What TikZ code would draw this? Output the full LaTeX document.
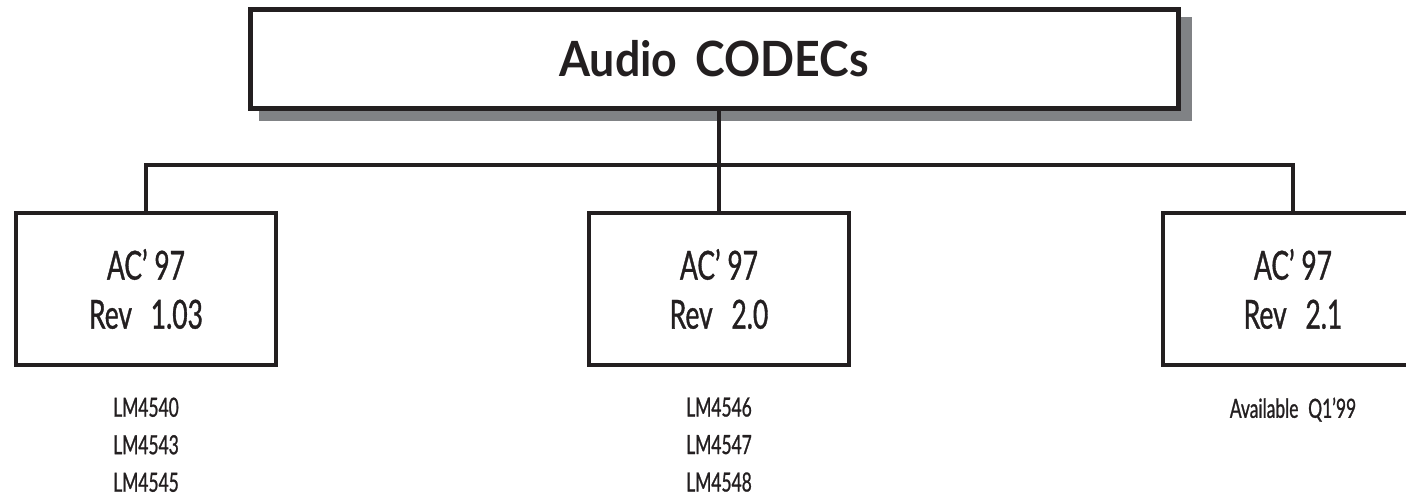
\documentclass[tikz,border=0pt]{standalone}
\usepackage{fontspec}
\setmainfont{Lato}
\newfontfamily\condfont[FakeStretch=0.66, FakeBold=0.9]{Lato}
\newfontfamily\headfont[FakeStretch=0.92]{Lato}
\usetikzlibrary{positioning,backgrounds}
\definecolor{inkcolor}{RGB}{35,31,32}
\definecolor{shadowcolor}{RGB}{128,130,133}

\begin{document}
\begin{tikzpicture}[
    x=0.5pt, y=-0.5pt,
    titlebox/.style={draw=inkcolor, fill=white, line width=2.5pt, inner sep=0pt,
      minimum width=464pt, minimum height=49.5pt, text=inkcolor,
      font=\headfont\bfseries\fontsize{24.3}{29}\selectfont},
    revbox/.style={draw=inkcolor, fill=white, line width=2.2pt, inner sep=0pt,
      minimum width=130pt, minimum height=76pt, align=center, text=inkcolor,
      font=\condfont\fontsize{20}{24.5}\selectfont},
    partlist/.style={align=center, inner sep=0pt, text=inkcolor,
      font=\condfont\fontsize{13.2}{18.75}\selectfont},
    link/.style={draw=inkcolor, line width=2pt},
  ]

  \def\boxrow{289}  % centre line of the revision boxes
  \def\busy{165}    % height of the branch line

  \useasboundingbox (0,0) rectangle (1406,497);

  % --- Top box ---
  \node[titlebox] (codecs) at (714,59) {Audio\hspace{0.15em} CODECs};
  \begin{pgfonlayer}{background}
    \fill[shadowcolor] ([shift={(11,10)}]codecs.north west)
      rectangle ([shift={(11,10)}]codecs.south east);
  \end{pgfonlayer}

  % --- Revision boxes ---
  \node[revbox] (rev103) at (146,\boxrow) {AC’ 97\\Rev\hspace{0.3em} 1.03};
  \node[revbox] (rev20)  at (719,\boxrow) {AC’ 97\\Rev\hspace{0.3em} 2.0};
  \node[revbox] (rev21)  at (1293,\boxrow) {AC’ 97\\Rev\hspace{0.3em} 2.1};

  % --- Parts ---
  \node[partlist, below=15pt of rev103] (parts103) {LM4540\\LM4543\\LM4545};
  \node[partlist, below=15pt of rev20]  (parts20)  {LM4546\\LM4547\\LM4548};
  \node[partlist, below=15pt of rev21]  (parts21)  {Available\hspace{0.2em} Q1’99};

  % --- Branches ---
  \coordinate (bus) at (719,\busy);
  \draw[link] (codecs.south -| rev20.north) -- (rev20.north);
  \draw[link] (rev103.north) |- (bus) -| (rev21.north);

\end{tikzpicture}
\end{document}
